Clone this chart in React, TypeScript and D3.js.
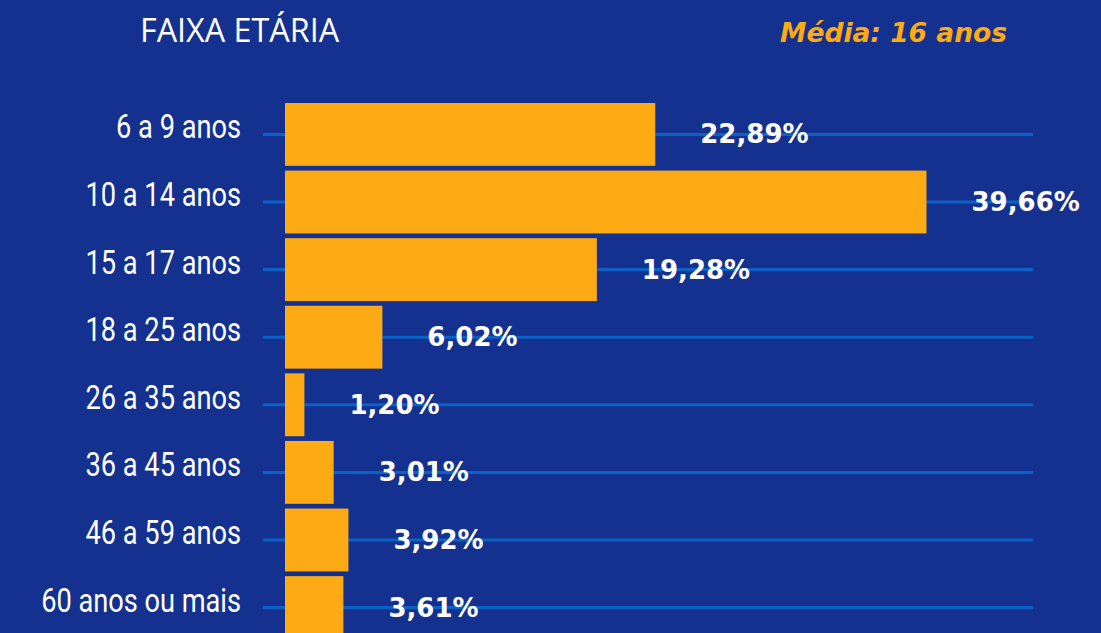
import React, { useEffect, useRef } from 'react';
import * as d3 from 'd3';

const categories = [
  '6 a 9 anos',
  '10 a 14 anos',
  '15 a 17 anos',
  '18 a 25 anos',
  '26 a 35 anos',
  '36 a 45 anos',
  '46 a 59 anos',
  '60 anos ou mais',
];
const values = [22.89, 39.66, 19.28, 6.02, 1.2, 3.01, 3.92, 3.61];
const title = 'FAIXA ETÁRIA';
const subtitle = 'Média: 16 anos';

const W = 1101;
const H = 633;

const App = () => {
  const ref = useRef<SVGSVGElement>(null);

  useEffect(() => {
    const svg = d3.select(ref.current);
    svg.selectAll('*').remove();

    const data = categories.map((c, i) => ({ cat: c, value: values[i] }));

    // scales
    const x = d3.scaleLinear().domain([0, 40]).range([285, 932]);
    const y = d3.scaleBand<string>()
      .domain(categories)
      .range([103, 639])
      .paddingInner(0.07)
      .paddingOuter(0);

    // background
    svg.append('rect')
      .attr('width', W)
      .attr('height', H)
      .attr('fill', '#15318f');

    // title
    svg.append('text')
      .attr('x', 140)
      .attr('y', 42)
      .attr('fill', '#ffffff')
      .attr('font-family', '"Open Sans", "Noto Sans", sans-serif')
      .attr('font-size', 32.3)
      .text(title);

    svg.append('text')
      .attr('x', 1007)
      .attr('y', 42)
      .attr('text-anchor', 'end')
      .attr('fill', '#fdaa14')
      .attr('font-family', '"DejaVu Sans", sans-serif')
      .attr('font-weight', 'bold')
      .attr('font-style', 'italic')
      .attr('font-size', 26.5)
      .text(subtitle);

    const cy = (d: { cat: string }) => (y(d.cat) as number) + y.bandwidth() / 2;

    // guide lines
    svg.append('g')
      .selectAll('line')
      .data(data)
      .enter().append('line')
      .attr('x1', 263)
      .attr('x2', 1033)
      .attr('y1', cy)
      .attr('y2', cy)
      .attr('stroke', '#0a62c6')
      .attr('stroke-width', 3);

    // bars
    svg.append('g')
      .selectAll('rect')
      .data(data)
      .enter().append('rect')
      .attr('x', x(0))
      .attr('y', d => y(d.cat) as number)
      .attr('width', d => x(d.value) - x(0))
      .attr('height', y.bandwidth())
      .attr('fill', '#feaa14');

    // category labels (condensed look via horizontal squeeze)
    svg.append('g')
      .selectAll('text')
      .data(data)
      .enter().append('text')
      .attr('transform', d => `translate(241, ${cy(d) + 4}) scale(0.8, 1)`)
      .attr('text-anchor', 'end')
      .attr('fill', '#ffffff')
      .attr('font-family', '"Roboto", "DejaVu Sans", sans-serif')
      .attr('font-size', 34)
      .text(d => d.cat);

    // value labels
    svg.append('g')
      .selectAll('text')
      .data(data)
      .enter().append('text')
      .attr('x', d => x(d.value) + 45)
      .attr('y', d => cy(d) + 9)
      .attr('fill', '#ffffff')
      .attr('font-family', '"DejaVu Sans", sans-serif')
      .attr('font-weight', 'bold')
      .attr('font-size', 26)
      .text(d => d.value.toFixed(2).replace('.', ',') + '%');
  }, []);

  return (
    <svg
      ref={ref}
      width={W}
      height={H}
      style={{ position: 'absolute', left: 0, top: 0, display: 'block' }}
    />
  );
};

export default App;
